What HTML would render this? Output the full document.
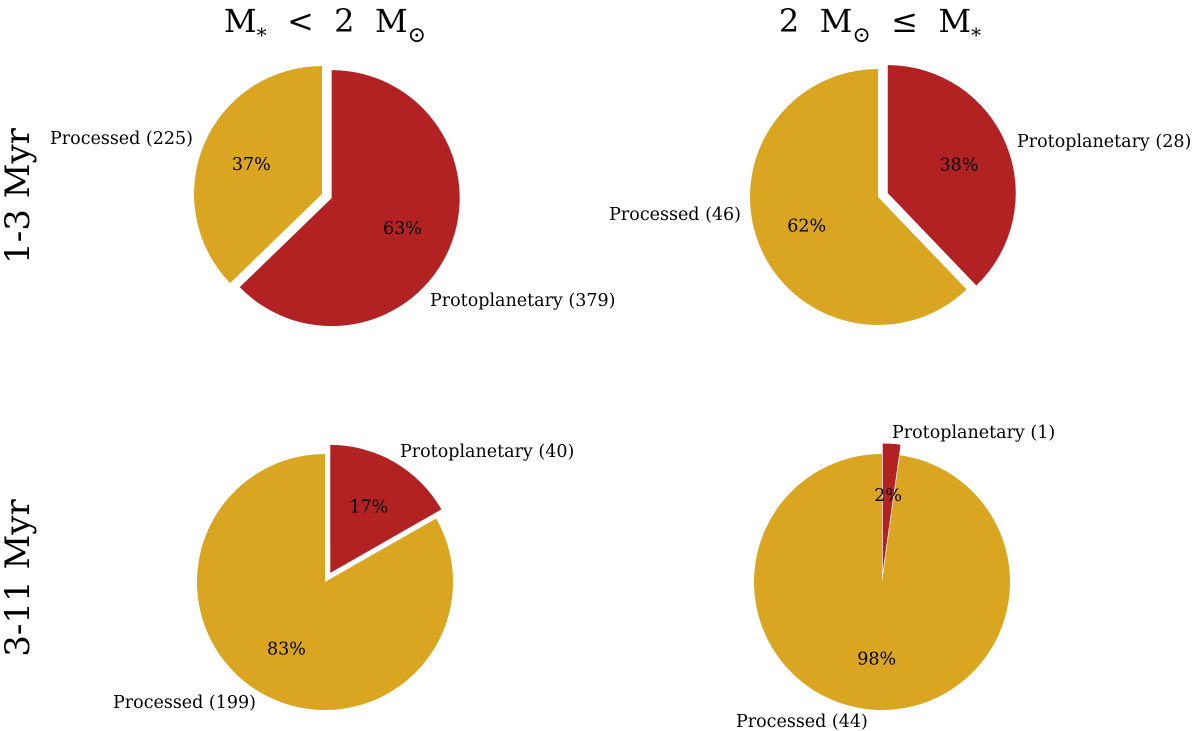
<!DOCTYPE html>
<html><head><meta charset="utf-8">
<style>
html,body{margin:0;padding:0;background:#fff;width:1200px;height:731px;overflow:hidden;}
svg text{font-family:"DejaVu Serif","Liberation Serif",serif;fill:#000;}
</style></head>
<body>
<svg id="chart" width="1200" height="731" xmlns="http://www.w3.org/2000/svg">
  <text x="325" y="32" font-size="32" text-anchor="middle" xml:space="preserve">M<tspan font-size="20" dy="10">*</tspan><tspan dy="-10">  &lt;  2  M</tspan><tspan font-size="22" dy="10">⊙</tspan></text>
  <text x="880" y="32" font-size="32" text-anchor="middle" xml:space="preserve">2  M<tspan font-size="22" dy="10">⊙</tspan><tspan dy="-10">  ≤  M</tspan><tspan font-size="20" dy="10">*</tspan></text>
  <text transform="translate(29,196) rotate(-90)" font-size="34" text-anchor="middle">1-3 Myr</text>
  <text transform="translate(29,578) rotate(-90)" font-size="34" text-anchor="middle">3-11 Myr</text>
  <g id="pies"></g>
  <text x="193" y="144" font-size="17.5" text-anchor="end">Processed (225)</text>
  <text x="430" y="306" font-size="17.5">Protoplanetary (379)</text>
  <text x="1017" y="147" font-size="17.5">Protoplanetary (28)</text>
  <text x="741" y="220" font-size="17.5" text-anchor="end">Processed (46)</text>
  <text x="400" y="457" font-size="17.5">Protoplanetary (40)</text>
  <text x="256" y="708" font-size="17.5" text-anchor="end">Processed (199)</text>
  <text x="892" y="438" font-size="17.5">Protoplanetary (1)</text>
  <text x="736" y="727" font-size="17.5">Processed (44)</text>
</svg>
<script>
const panelNames = ["low-mass-1-3-myr","high-mass-1-3-myr","low-mass-3-11-myr","high-mass-3-11-myr"];
const processedCounts = [225, 46, 199, 44];
const protoCounts = [379, 28, 40, 1];
const centers = [[322,194],[878,197],[325,582],[882,582]];
const R = 128, EXPLODE = 10.5;
const GOLD = "#daa520", RED = "#b22222";
const g = document.getElementById('pies');
const NS = "http://www.w3.org/2000/svg";
function pt(cx, cy, r, deg){const a = deg*Math.PI/180; return [cx + r*Math.cos(a), cy - r*Math.sin(a)];}
function wedge(cx, cy, a0, a1, color, name){
  const p0 = pt(cx,cy,R,a0), p1 = pt(cx,cy,R,a1);
  const large = (a1-a0) > 180 ? 1 : 0;
  const p = document.createElementNS(NS,'path');
  p.setAttribute('d', `M${cx},${cy} L${p0[0]},${p0[1]} A${R},${R} 0 ${large} 0 ${p1[0]},${p1[1]} Z`);
  p.setAttribute('fill', color);
  
  
  g.appendChild(p);
}
function pct(x, y, v, name){
  const t = document.createElementNS(NS,'text');
  t.setAttribute('x', x); t.setAttribute('y', y + 6);
  t.setAttribute('font-size', '17.5'); t.setAttribute('text-anchor', 'middle');
  t.textContent = Math.round(v) + '%';
  
  
  g.appendChild(t);
}
for (let i = 0; i < 4; i++){
  const tot = processedCounts[i] + protoCounts[i];
  const [cx, cy] = centers[i];
  const gA = 360*processedCounts[i]/tot;
  const a0 = 90, a1 = 90 + gA, a2 = 450;
  wedge(cx, cy, a0, a1, GOLD, 'processed-slice-' + panelNames[i]);
  const gm = (a0+a1)/2, gp = pt(cx, cy, 0.6*R, gm);
  pct(gp[0], gp[1], 100*processedCounts[i]/tot, 'processed-percent-' + panelNames[i]);
  const rm = (a1+a2)/2;
  const [ox, oy] = pt(cx, cy, EXPLODE, rm);
  wedge(ox, oy, a1, a2, RED, 'protoplanetary-slice-' + panelNames[i]);
  const rp = pt(ox, oy, 0.6*R, rm);
  pct(rp[0], rp[1], 100*protoCounts[i]/tot, 'protoplanetary-percent-' + panelNames[i]);
}
</script>
</body></html>
